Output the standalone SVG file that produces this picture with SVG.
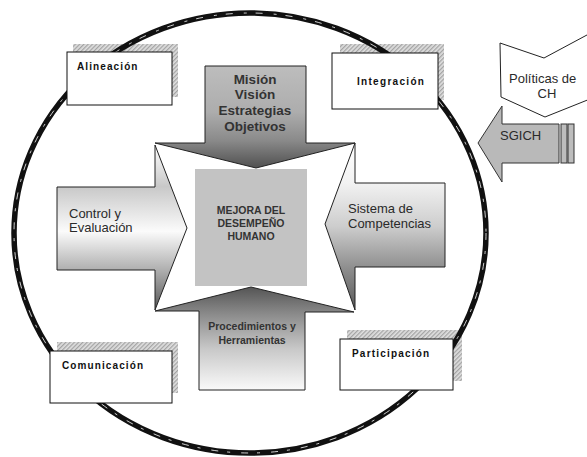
<svg xmlns="http://www.w3.org/2000/svg" width="587" height="457" viewBox="0 0 587 457">
<defs>
<pattern id="hatch" width="3" height="3" patternUnits="userSpaceOnUse" patternTransform="rotate(45)">
<rect width="3" height="3" fill="#e0e0e0"/>
<rect width="1.3" height="3" fill="#a4a4a4"/>
</pattern>
<linearGradient id="gTop" gradientUnits="userSpaceOnUse" x1="0" y1="66" x2="0" y2="168">
<stop offset="0" stop-color="#bdbdbd"/>
<stop offset="0.45" stop-color="#adadad"/>
<stop offset="0.73" stop-color="#8a8a8a"/>
<stop offset="1" stop-color="#505050"/>
</linearGradient>
<linearGradient id="gLeft" gradientUnits="userSpaceOnUse" x1="0" y1="145" x2="0" y2="311">
<stop offset="0" stop-color="#ffffff"/>
<stop offset="0.25" stop-color="#c8c8c8"/>
<stop offset="0.52" stop-color="#fbfbfb"/>
<stop offset="0.75" stop-color="#b0b0b0"/>
<stop offset="1" stop-color="#555"/>
</linearGradient>
<linearGradient id="gRight" gradientUnits="userSpaceOnUse" x1="0" y1="143" x2="0" y2="310">
<stop offset="0" stop-color="#ffffff"/>
<stop offset="0.24" stop-color="#f2f2f2"/>
<stop offset="0.5" stop-color="#cdcdcd"/>
<stop offset="0.75" stop-color="#8e8e8e"/>
<stop offset="1" stop-color="#5a5a5a"/>
</linearGradient>
<linearGradient id="gBottom" gradientUnits="userSpaceOnUse" x1="0" y1="287" x2="0" y2="390">
<stop offset="0" stop-color="#555"/>
<stop offset="0.25" stop-color="#888"/>
<stop offset="0.6" stop-color="#c8c8c8"/>
<stop offset="1" stop-color="#fafafa"/>
</linearGradient>
</defs>
<style>
.shadow{fill:url(#hatch);}
.box{fill:#fff;stroke:#111;stroke-width:1;}
.lbl{font-family:"Liberation Sans",Arial,sans-serif;font-weight:bold;font-size:10px;fill:#111;}
.arr{stroke:#222;stroke-width:1;stroke-linejoin:miter;}
.t13{font-family:"Liberation Sans",Arial,sans-serif;font-size:13px;fill:#2a2a2a;}
.tb{font-family:"Liberation Sans",Arial,sans-serif;font-weight:bold;fill:#333;text-anchor:middle;}
</style>

<!-- shadows of boxes -->
<g id="shadows">
<rect class="shadow" x="73" y="44" width="105" height="53"/>
<rect class="shadow" x="340" y="44" width="104" height="56"/>
<rect class="shadow" x="57" y="342" width="121" height="51"/>
<rect class="shadow" x="347" y="330" width="115" height="51"/>
</g>

<!-- big circle -->
<g id="circle">
<ellipse cx="250" cy="233" rx="236" ry="220" fill="none" stroke="#111" stroke-width="5.5"/>
<ellipse cx="250" cy="233" rx="236" ry="220" fill="none" stroke="#fff" stroke-width="0.8" stroke-dasharray="7 11 3 9"/>
</g>

<g id="alineacion">
<rect class="box" x="67" y="52" width="105" height="53"/>
<text class="lbl" x="77" y="70" letter-spacing="1.1">Alineación</text>
</g>
<g id="integracion">
<rect class="box" x="332" y="53" width="106" height="56"/>
<text class="lbl" x="357" y="85" letter-spacing="1.3">Integración</text>
</g>
<g id="comunicacion">
<rect class="box" x="50" y="351" width="122" height="52"/>
<text class="lbl" x="62" y="369" letter-spacing="1.1">Comunicación</text>
</g>
<g id="participacion">
<rect class="box" x="340" y="339" width="113" height="51"/>
<text class="lbl" x="352" y="357" letter-spacing="1.2">Participación</text>
</g>

<g id="mejora">
<rect x="195" y="169" width="112" height="117" fill="#c3c3c3"/>
<text class="tb" font-size="10.5" fill="#3a3a3a" x="251" y="214">MEJORA DEL</text>
<text class="tb" font-size="10.5" fill="#3a3a3a" x="251" y="227">DESEMPEÑO</text>
<text class="tb" font-size="10.5" fill="#3a3a3a" x="251" y="240">HUMANO</text>
</g>

<g id="mision">
<polygon class="arr" fill="url(#gTop)" points="205,66 306,66 306,143 355,143 256,168 155,143 205,143"/>
<text class="tb" font-size="13.5" x="255" y="84">Misión</text>
<text class="tb" font-size="13.5" x="255" y="99">Visión</text>
<text class="tb" font-size="13.5" x="255" y="115">Estrategias</text>
<text class="tb" font-size="13.5" x="255" y="131">Objetivos</text>
</g>

<g id="control">
<polygon class="arr" fill="url(#gLeft)" points="57,187 155,187 155,145 187,228 155,310 155,270 57,270"/>
<text class="t13" x="69" y="218">Control y</text>
<text class="t13" x="69" y="232">Evaluación</text>
</g>

<g id="sistema">
<polygon class="arr" fill="url(#gRight)" points="445,183 355,183 355,143 325,224 355,310 355,267 445,267"/>
<text class="t13" x="348" y="213">Sistema de</text>
<text class="t13" x="348" y="228">Competencias</text>
</g>

<g id="procedimientos">
<polygon class="arr" fill="url(#gBottom)" points="199,390 305,390 305,312 354,312 251,287 155,311 199,311"/>
<text class="tb" font-size="10.5" x="252" y="330">Procedimientos y</text>
<text class="tb" font-size="10.5" x="252" y="344">Herramientas</text>
</g>

<g id="politicas">
<polygon points="500,43 544,58 600,28 600,95 545,117 501,97" fill="#fff" stroke="#222" stroke-width="1"/>
<text class="t13" font-size="14.5" x="509" y="83">Políticas de</text>
<text class="t13" font-size="14.5" x="547" y="98" text-anchor="middle">CH</text>
</g>

<g id="sgich">
<polygon points="478,143 502,106 502,124 559,124 559,163 502,163 502,182" fill="#b9b9b9" stroke="#333" stroke-width="1"/>
<rect x="561" y="124" width="6" height="39" fill="#bdbdbd" stroke="#333" stroke-width="1"/>
<rect x="568" y="124" width="6" height="39" fill="#bdbdbd" stroke="#333" stroke-width="1"/>
<text class="t13" font-size="13.5" x="500" y="140">SGICH</text>
</g>

<g id="connectors"></g>
</svg>
